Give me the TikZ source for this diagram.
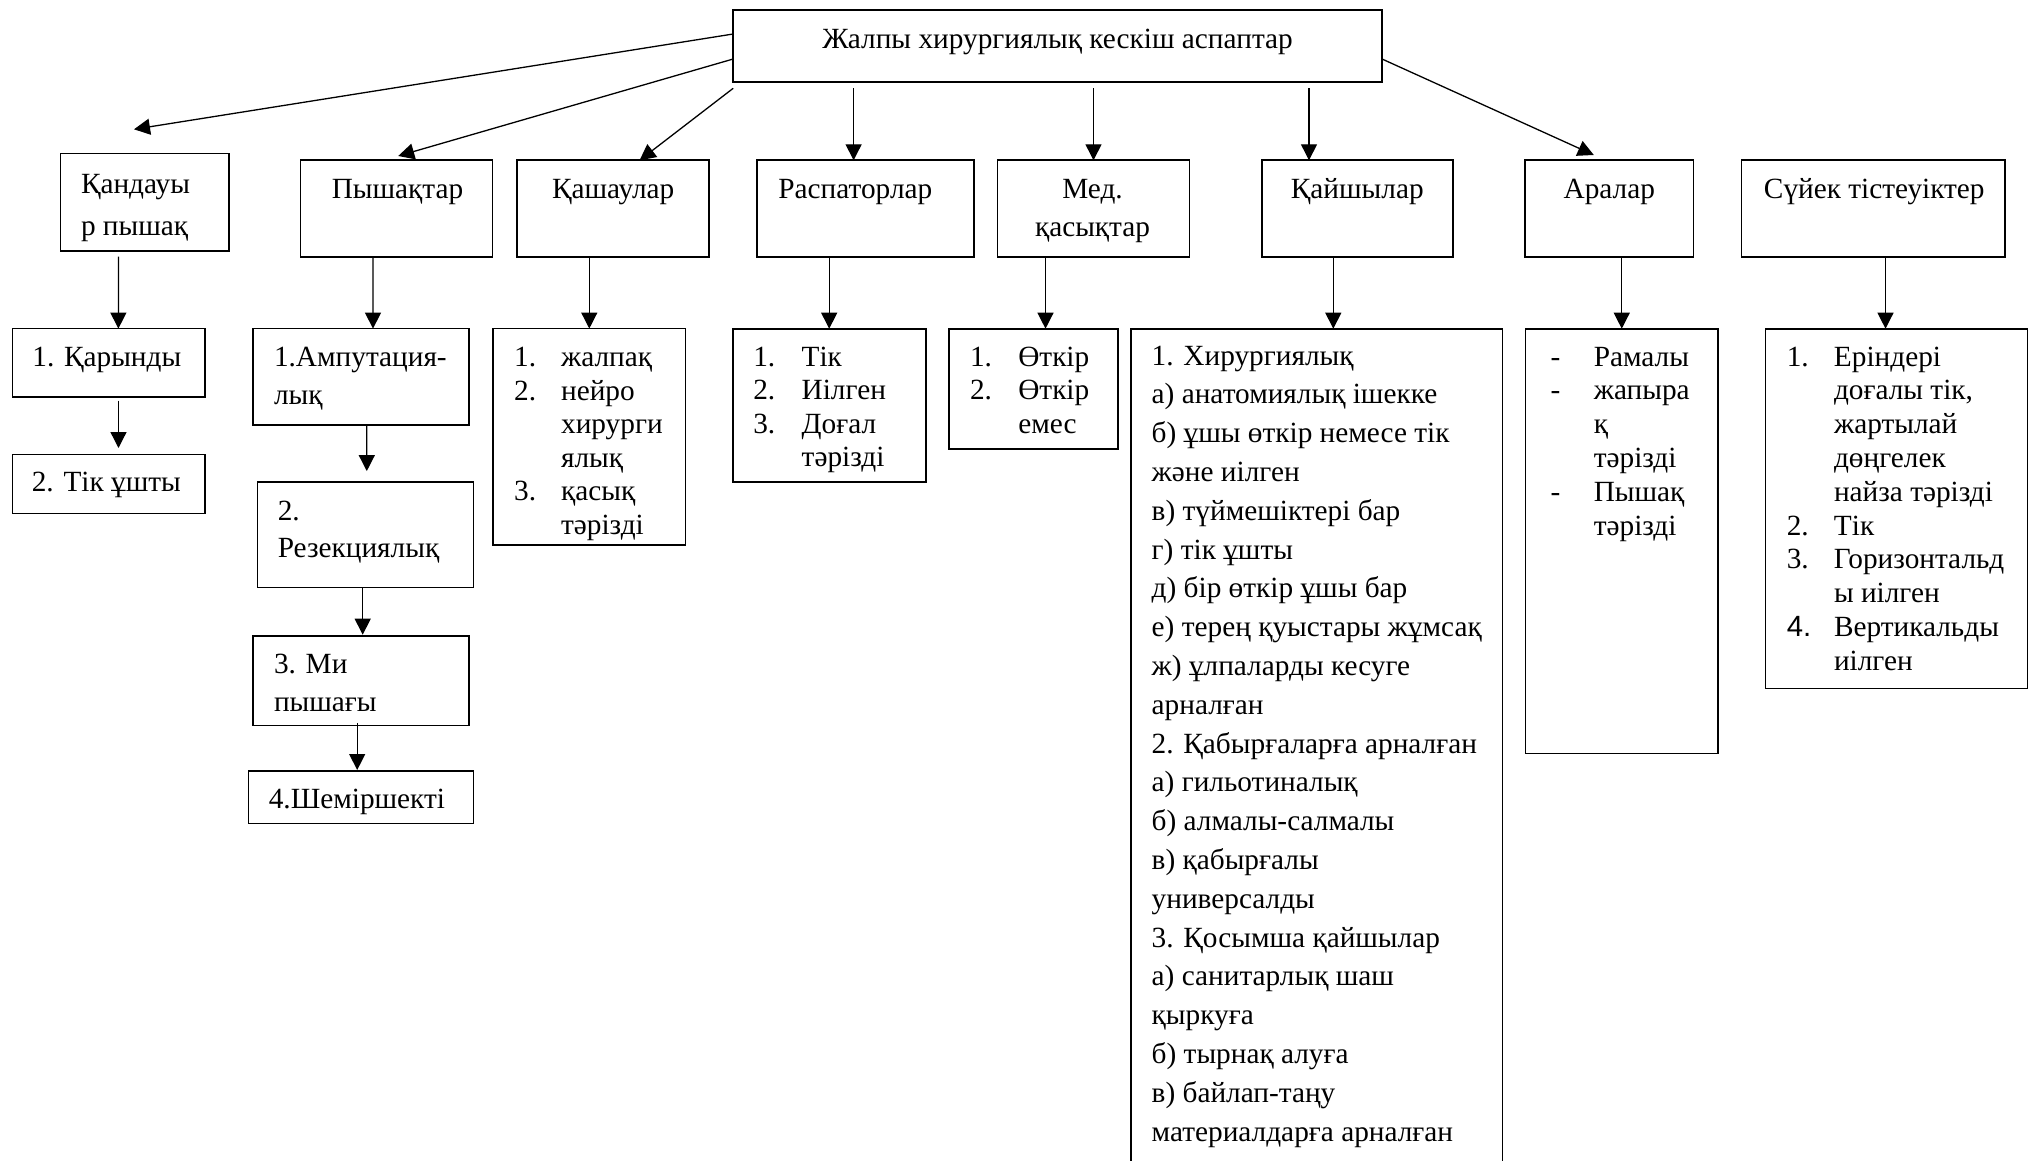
\documentclass[tikz,border=0pt]{standalone}
\usepackage{fontspec}
\setmainfont{Liberation Serif}
\newfontfamily\arialfont{Liberation Sans}
\usetikzlibrary{arrows.meta,calc}

% stacked lines at a fixed baseline distance; the box baseline is the first line
\newcommand\ListOne[2]{\vtop{\baselineskip=#1\lineskiplimit=-\maxdimen\lineskip=0pt\halign{##\hfil\cr#2\crcr}}}
\newcommand\ListMid[2]{\vtop{\baselineskip=#1\lineskiplimit=-\maxdimen\lineskip=0pt\halign{\hfil##\hfil\cr#2\crcr}}}
\newcommand\ListTwo[3]{\vtop{\baselineskip=#1\lineskiplimit=-\maxdimen\lineskip=0pt\halign{\hbox to #2{##\hfil}&##\hfil\cr#3\crcr}}}

\begin{document}
\begin{tikzpicture}[x=1pt,y=-1pt,
  font=\fontsize{29.3}{34}\selectfont,
  boxnode/.style={draw,line width=1.6pt,inner sep=0pt,outer sep=0pt,anchor=north west},
  txt/.style={inner sep=0pt,outer sep=0pt},
  arr/.style={line width=1.3pt,-{Triangle[length=16pt,width=16pt]}}]
\useasboundingbox (0,0) rectangle (2029,1161);
\clip (0,0) rectangle (2029,1161);

% root
\node[boxnode,minimum width=648.8pt,minimum height=72pt] (top) at (733.2,10) {};
\node[txt,anchor=base] (top-t) at ($(top.north)+(0,39)$) {Жалпы хирургиялық кескіш аспаптар};

% first level
\node[boxnode,minimum width=168.6pt,minimum height=97.2pt] (kand) at (60.5,153.5) {};
\node[boxnode,minimum width=192pt,minimum height=96.4pt] (pysh) at (300.5,160.3) {};
\node[boxnode,minimum width=192pt,minimum height=96.4pt] (kash) at (517.2,160.3) {};
\node[boxnode,minimum width=217.3pt,minimum height=96.4pt] (rasp) at (756.7,160.3) {};
\node[boxnode,minimum width=192.2pt,minimum height=96.4pt] (med) at (997.4,160.3) {};
\node[boxnode,minimum width=191pt,minimum height=96.4pt] (kaish) at (1261.8,160.3) {};
\node[boxnode,minimum width=168.6pt,minimum height=96.4pt] (ara) at (1525,160.3) {};
\node[boxnode,minimum width=263.5pt,minimum height=96.4pt] (suyek) at (1741.5,160.3) {};

\node[txt,anchor=base west] (kand-t) at ($(kand.north west)+(20.5,40.5)$) {\ListOne{42pt}{Қандауы\cr р пышақ}};
\node[txt,anchor=base] (pysh-t) at ($(pysh.north)+(1,38.7)$) {Пышақтар};
\node[txt,anchor=base] (kash-t) at ($(kash.north)+(0,38.7)$) {Қашаулар};
\node[txt,anchor=base] (rasp-t) at ($(rasp.north)+(-10,38.7)$) {Распаторлар};
\node[txt,anchor=base] (med-t) at ($(med.north)+(-1,38.7)$) {\ListMid{38pt}{Мед.\cr қасықтар}};
\node[txt,anchor=base] (kaish-t) at ($(kaish.north)+(0,38.7)$) {Қайшылар};
\node[txt,anchor=base] (ara-t) at ($(ara.north)+(0,38.7)$) {Аралар};
\node[txt,anchor=base] (suyek-t) at ($(suyek.north)+(1,38.7)$) {Сүйек тістеуіктер};

% second level
\node[boxnode,minimum width=192.8pt,minimum height=68.5pt] (kar1) at (12.4,328.6) {};
\node[boxnode,minimum width=192.8pt,minimum height=59.2pt] (kar2) at (12.4,454.3) {};
\node[boxnode,minimum width=216.2pt,minimum height=96.1pt] (p1) at (253,328.6) {};
\node[boxnode,minimum width=215.8pt,minimum height=105.7pt] (p2) at (257.6,481.8) {};
\node[boxnode,minimum width=216.2pt,minimum height=89.6pt] (p3) at (253,635.7) {};
\node[boxnode,minimum width=225pt,minimum height=52.7pt] (p4) at (248.4,770.7) {};
\node[boxnode,minimum width=192.4pt,minimum height=216.2pt] (kashL) at (493.1,328.6) {};
\node[boxnode,minimum width=193pt,minimum height=153.3pt] (raspL) at (732.7,328.7) {};
\node[boxnode,minimum width=168.7pt,minimum height=120pt] (medL) at (949,328.7) {};
\node[boxnode,minimum width=371.5pt,minimum height=860pt] (kaishL) at (1131,328.7) {};
\node[boxnode,minimum width=192.5pt,minimum height=424.6pt] (araL) at (1525.5,328.7) {};
\node[boxnode,minimum width=262pt,minimum height=359.6pt] (suyekL) at (1765.5,328.7) {};

\node[txt,anchor=base] (kar1-t) at ($(kar1.north)+(-2,37.4)$) {1. Қарынды};
\node[txt,anchor=base] (kar2-t) at ($(kar2.north)+(-2.5,36.7)$) {2. Тік ұшты};
\node[txt,anchor=base west] (p1-t) at ($(p1.north west)+(21,37.4)$) {\ListOne{38pt}{1.Ампутация-\cr лық}};
\node[txt,anchor=base west] (p2-t) at ($(p2.north west)+(20.2,38.7)$) {\ListOne{37pt}{2.\cr Резекциялық}};
\node[txt,anchor=base west] (p3-t) at ($(p3.north west)+(21,37.3)$) {\ListOne{38.5pt}{3. Ми\cr пышағы}};
\node[txt,anchor=base] (p4-t) at ($(p4.north)+(-4,37.3)$) {4.Шеміршекті};

\node[txt,anchor=base west] (kashL-t) at ($(kashL.north west)+(21.1,37.9)$)
  {\ListTwo{33.6pt}{46.9pt}{1.&жалпақ\cr 2.&нейро\cr &хирурги\cr &ялық\cr 3.&қасық\cr &тәрізді}};
\node[txt,anchor=base west] (raspL-t) at ($(raspL.north west)+(20.6,37.3)$)
  {\ListTwo{33.5pt}{48.4pt}{1.&Тік\cr 2.&Иілген\cr 3.&Доғал\cr &тәрізді}};
\node[txt,anchor=base west] (medL-t) at ($(medL.north west)+(21,37.3)$)
  {\ListTwo{33.5pt}{48.3pt}{1.&Өткір\cr 2.&Өткір\cr &емес}};
\node[txt,anchor=base west] (kaishL-t) at ($(kaishL.north west)+(20.7,36.3)$)
  {\ListOne{38.8pt}{1. Хирургиялық\cr
   а) анатомиялық ішекке\cr
   б) ұшы өткір немесе тік\cr
   және иілген\cr
   в) түймешіктері бар\cr
   г) тік ұшты\cr
   д) бір өткір ұшы бар\cr
   е) терең қуыстары жұмсақ\cr
   ж) ұлпаларды кесуге\cr
   арналған\cr
   2. Қабырғаларға арналған\cr
   а) гильотиналық\cr
   б) алмалы-салмалы\cr
   в) қабырғалы\cr
   универсалды\cr
   3. Қосымша қайшылар\cr
   а) санитарлық шаш\cr
   қыркуға\cr
   б) тырнақ алуға\cr
   в) байлап-таңу\cr
   материалдарға арналған}};
\node[txt,anchor=base west] (araL-t) at ($(araL.north west)+(25.1,37.3)$)
  {\ListTwo{33.8pt}{43.2pt}{-&Рамалы\cr -&жапыра\cr &қ\cr &тәрізді\cr -&Пышақ\cr &тәрізді}};
\node[txt,anchor=base west] (suyekL-t) at ($(suyekL.north west)+(21.3,37.3)$)
  {\ListTwo{33.8pt}{47.2pt}{1.&Еріндері\cr &доғалы тік,\cr &жартылай\cr &дөңгелек\cr &найза тәрізді\cr
   2.&Тік\cr 3.&Горизонтальд\cr &ы иілген\cr {\arialfont 4.}&Вертикальды\cr &иілген}};

% connectors from the root
\draw[arr] ($(top.north west)+(0,24)$) -- ($(kand.north)+(-10.8,-24.2)$);
\draw[arr] ($(top.north west)+(0,49)$) -- ($(pysh.north)+(1.7,-4.3)$);
\draw[arr] ($(top.south west)+(0,6.3)$) -- ($(kash.north)+(26.4,0)$);
\draw[arr] ($(top.south -| rasp.north)+(-11.75,6.3)$) -- ($(rasp.north)+(-11.75,0)$);
\draw[arr] ($(top.south -| med.north)+(0,6.3)$) -- (med.north);
\draw[arr] ($(top.south -| kaish.north)+(-48.3,6.3)$) -- ($(kaish.north)+(-48.3,0)$);
\draw[arr] ($(top.north east)+(0,49)$) -- ($(ara.north)+(-15.5,-5.3)$);

% connectors to the lists
\draw[arr] ($(kand.south)+(-26.4,6)$) -- ($(kar1.north)+(9.6,0)$);
\draw[arr] ($(kar1.south)+(9.7,3.5)$) -- ($(kar2.north)+(9.7,-6.3)$);
\draw[arr] ($(pysh.south)+(-23.5,0)$) -- ($(p1.north)+(11.9,0)$);
\draw[arr] ($(p1.south)+(5.7,0)$) -- ($(p2.north)+(1.3,-10.7)$);
\draw[arr] ($(p2.south)+(-2.8,0)$) -- ($(p3.north)+(1.6,-1)$);
\draw[arr] ($(p3.south)+(-3.9,-2.4)$) -- ($(p4.north)+(-3.7,-0.7)$);
\draw[arr] (kash.south -| kashL.north) -- (kashL.north);
\draw[arr] (rasp.south -| raspL.north) -- (raspL.north);
\draw[arr] ($(med.south)+(-48,0)$) -- ($(medL.north)+(12.15,0)$);
\draw[arr] ($(kaish.south)+(-24,0)$) -- ($(kaishL.north)+(16.55,0)$);
\draw[arr] (ara.south -| araL.north) -- (araL.north);
\draw[arr] ($(suyek.south)+(12.25,0)$) -- ($(suyekL.north)+(-11,0)$);
\end{tikzpicture}
\end{document}
